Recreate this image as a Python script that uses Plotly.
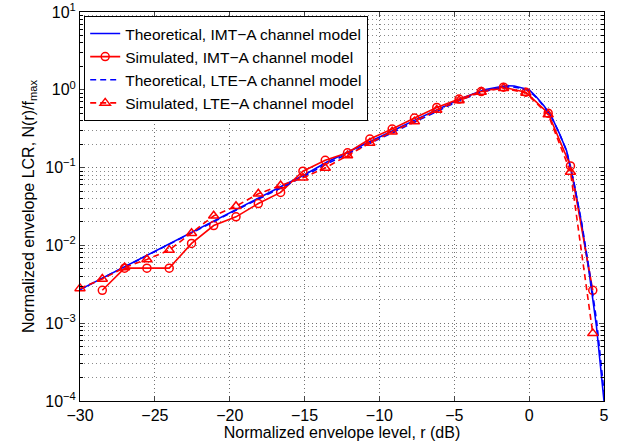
import plotly.graph_objects as go

# theoretical curves
r_theo = [-30, -28.5, -27, -25.5, -24, -22.5, -21, -19.5, -18, -16.5, -15, -13.5, -12,
          -10.5, -9, -7.5, -6, -4.5, -3, -2, -1.5, -1, -0.5, 0, 0.5, 1, 1.5, 2, 2.5,
          3, 3.5, 4, 4.5, 5]
lcr_theo_imt = [2.7e-3, 3.8e-3, 5.4e-3, 7.6e-3, 0.0107, 0.015, 0.021, 0.0295, 0.0415,
                0.058, 0.081, 0.118, 0.162, 0.225, 0.305, 0.42, 0.57, 0.78, 1.0, 1.09,
                1.13, 1.12, 1.07, 1.0, 0.80, 0.62, 0.45, 0.28, 0.165, 0.062, 0.019,
                4.6e-3, 9e-4, 1e-4]
lcr_theo_lte = [2.7e-3, 3.8e-3, 5.3e-3, 7.5e-3, 0.0105, 0.0148, 0.0205, 0.0288, 0.040,
                0.056, 0.078, 0.112, 0.154, 0.213, 0.29, 0.40, 0.545, 0.75, 0.96, 1.05,
                1.09, 1.08, 1.04, 0.97, 0.79, 0.61, 0.445, 0.28, 0.165, 0.063, 0.02,
                5e-3, 1.1e-3, 1.3e-4]

# simulated points
r_sim_imt = [-28.51, -27.02, -25.53, -24.04, -22.55, -21.07, -19.58, -18.09, -16.6,
             -15.11, -13.62, -12.13, -10.64, -9.15, -7.66, -6.17, -4.68, -3.2, -1.71,
             -0.22, 1.27, 2.76, 4.25]
lcr_sim_imt = [2.65e-3, 5.1e-3, 5.1e-3, 5.1e-3, 0.0106, 0.018, 0.0233, 0.0345, 0.048,
               0.09, 0.124, 0.155, 0.233, 0.313, 0.434, 0.593, 0.76, 0.95, 1.08, 0.93,
               0.50, 0.105, 2.65e-3]
r_sim_lte = [-30, -28.51, -27.02, -25.53, -24.04, -22.55, -21.07, -19.58, -18.09, -16.6,
             -15.11, -13.62, -12.13, -10.64, -9.15, -7.66, -6.17, -4.68, -3.2, -1.71,
             -0.22, 1.27, 2.76, 4.25]
lcr_sim_lte = [2.8e-3, 3.7e-3, 5.2e-3, 6.6e-3, 8.7e-3, 0.0143, 0.024, 0.0319, 0.046,
               0.0588, 0.0738, 0.099, 0.143, 0.207, 0.29, 0.39, 0.55, 0.73, 0.94, 1.05,
               0.91, 0.48, 0.088, 7.4e-4]

x_ticks = [-30, -25, -20, -15, -10, -5, 0, 5]
y_ticks = [1e-4, 1e-3, 1e-2, 1e-1, 1, 10]
y_ticktext = ["10<sup>−4</sup>", "10<sup>−3</sup>", "10<sup>−2</sup>",
              "10<sup>−1</sup>", "10<sup>0</sup>", "10<sup>1</sup>"]

BLUE = "#0000ff"
RED = "#ff0000"

fig = go.Figure()
fig.add_trace(go.Scatter(x=r_theo, y=lcr_theo_imt, mode="lines",
                         name="Theoretical, IMT−A channel model", legendgroup="a",
                         line=dict(color=BLUE, width=1.6)))
fig.add_trace(go.Scatter(x=r_sim_imt, y=lcr_sim_imt, mode="lines+markers",
                         name="Simulated, IMT−A channel model", legendgroup="b",
                         line=dict(color=RED, width=1.6),
                         marker=dict(symbol="circle-open", size=8, color=RED,
                                     line=dict(width=1.5))))
fig.add_trace(go.Scatter(x=r_theo, y=lcr_theo_lte, mode="lines",
                         name="Theoretical, LTE−A channel model", legendgroup="c",
                         line=dict(color=BLUE, width=1.6, dash="6px,4px")))
fig.add_trace(go.Scatter(x=r_sim_lte, y=lcr_sim_lte, mode="lines+markers",
                         name="Simulated, LTE−A channel model", legendgroup="d",
                         line=dict(color=RED, width=1.6, dash="6px,4px"),
                         marker=dict(symbol="triangle-up-open", size=9, color=RED,
                                     line=dict(width=1.5))))
fig.update_traces(cliponaxis=False)

grid = dict(showgrid=True, gridcolor="#707070", griddash="1px,3px", gridwidth=1)

fig.update_xaxes(range=[-30, 5], tickvals=x_ticks, ticks="inside", ticklen=5,
                 showline=True, linecolor="black", linewidth=1, mirror="ticks",
                 zeroline=False, automargin=False,
                 tickfont=dict(size=16, color="black"),
                 title=dict(text="Normalized envelope level, r (dB)", standoff=2,
                            font=dict(size=16, color="black")),
                 **grid)
fig.update_yaxes(type="log", range=[-4, 1], tickvals=y_ticks, ticktext=y_ticktext,
                 ticks="inside", ticklen=5, showline=True, linecolor="black",
                 linewidth=1, mirror="ticks", automargin=False,
                 ticklabeloverflow="allow",
                 tickfont=dict(size=16, color="black"),
                 title=dict(text="Normalized envelope LCR, N(r)/f<sub>max</sub>",
                            standoff=6, font=dict(size=16, color="black")),
                 minor=dict(dtick="D1", ticks="inside", ticklen=3, tickcolor="black",
                            showgrid=True, gridcolor="#8a8a8a", griddash="1px,3px"),
                 **grid)

fig.update_layout(
    width=623, height=447,
    margin=dict(l=80, r=19, t=12, b=46),
    paper_bgcolor="white", plot_bgcolor="white",
    font=dict(family="Liberation Sans, Arial, sans-serif", color="black"),
    legend=dict(x=0.008, y=0.99, xanchor="left", yanchor="top",
                bgcolor="white", bordercolor="black", borderwidth=1,
                font=dict(size=15.5), tracegroupgap=0, itemwidth=30),
)

# drop the browser's default body margin so the figure sits at the page corner
fig.write_html("out.html", config={"displayModeBar": False},
               post_script="document.body.style.margin = '0';")
